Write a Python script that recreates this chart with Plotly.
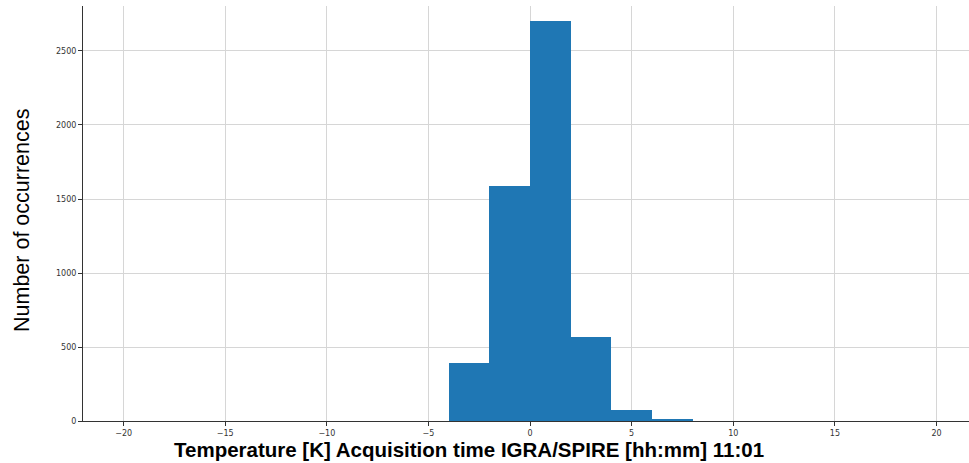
import plotly.graph_objects as go

# Histogram of temperature differences (bin edges and counts per bin)
bin_edges = [-4, -2, 0, 2, 4, 6, 8]
counts = [390, 1588, 2705, 565, 74, 12]

x_ticks = [-20, -15, -10, -5, 0, 5, 10, 15, 20]
y_ticks = [0, 500, 1000, 1500, 2000, 2500]

x_title = "<b>Temperature [K] Acquisition time IGRA/SPIRE [hh:mm] 11:01</b>"
y_title = "Number of occurrences"

centers = [(a + b) / 2 for a, b in zip(bin_edges[:-1], bin_edges[1:])]
widths = [b - a for a, b in zip(bin_edges[:-1], bin_edges[1:])]

fig = go.Figure(
    go.Bar(
        x=centers,
        y=counts,
        width=widths,
        marker=dict(color="#1f77b4", line=dict(width=0)),
        showlegend=False,
    )
)

fig.update_layout(
    width=969,
    height=463,
    margin=dict(l=83, r=0, t=6, b=42),
    plot_bgcolor="white",
    paper_bgcolor="white",
    font=dict(family="DejaVu Sans", size=8, color="#333"),
    bargap=0,
    annotations=[
        dict(
            text=x_title,
            xref="paper", yref="paper",
            x=0.4357, y=-0.0675,
            xanchor="center", yanchor="middle",
            showarrow=False,
            font=dict(family="Liberation Sans", size=20.5, color="black"),
        ),
        dict(
            text=y_title,
            xref="paper", yref="paper",
            x=-0.0688, y=0.482,
            xanchor="center", yanchor="middle",
            textangle=-90,
            showarrow=False,
            font=dict(family="Liberation Sans", size=21.5, color="black"),
        ),
    ],
)

fig.update_xaxes(
    range=[-22, 21.6],
    tickvals=x_ticks,
    ticktext=[("\u2212" + str(abs(v))) if v < 0 else str(v) for v in x_ticks],
    showgrid=True,
    gridcolor="#d6d6d6",
    gridwidth=1,
    zeroline=False,
    showline=True,
    linecolor="#333",
    linewidth=1,
    ticks="outside",
    ticklen=4,
    tickcolor="#333",
    tickfont=dict(size=8, color="#333"),
)

fig.update_yaxes(
    range=[0, 2804],
    tickvals=y_ticks,
    showgrid=True,
    gridcolor="#d6d6d6",
    gridwidth=1,
    zeroline=False,
    showline=True,
    linecolor="#333",
    linewidth=1,
    ticks="outside",
    ticklen=4,
    tickcolor="#333",
    tickfont=dict(size=8, color="#333"),
)

fig.write_html("out.html")
